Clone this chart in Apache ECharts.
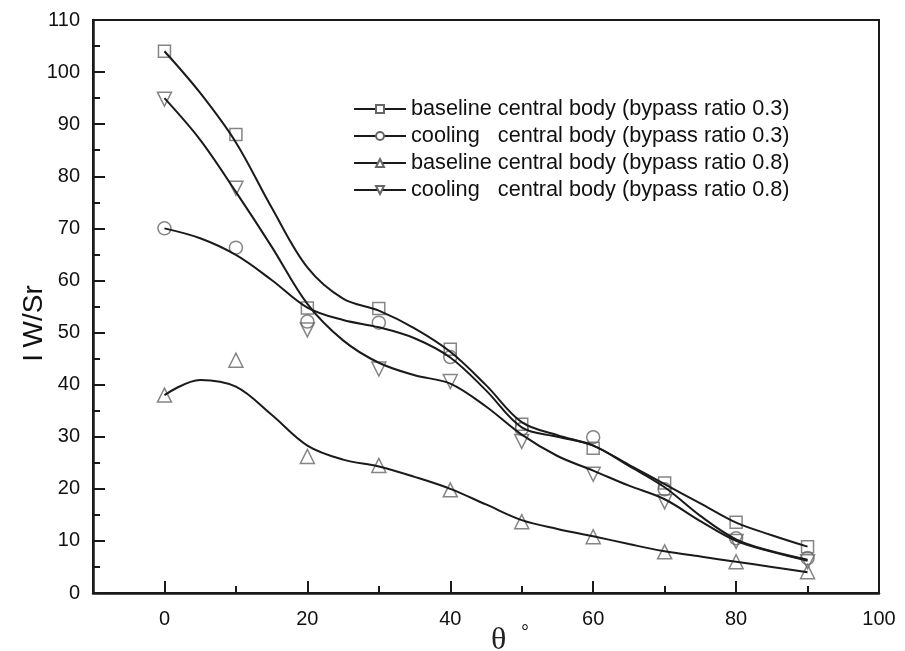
<!DOCTYPE html>
<html><head><meta charset="utf-8">
<script src="https://cdn.jsdelivr.net/npm/echarts@6/dist/echarts.min.js"></script>
<style>html,body{margin:0;padding:0;background:#fff}#c{width:905px;height:651px}</style>
</head><body><div id="c"></div>
<script>
// ---- data ----
const markerX = [0, 10, 20, 30, 40, 50, 60, 70, 80, 90];
const baseline03 = [104, 88, 54.7, 54.6, 46.8, 32.4, 27.8, 21.1, 13.6, 8.9];
const cooling03  = [70, 66.3, 52.1, 51.9, 45.3, 31.5, 29.9, 19.9, 10.5, 6.7];
const baseline08 = [38, 44.7, 26.2, 24.5, 19.8, 13.7, 10.8, 7.9, 6.0, 4.1];
const cooling08  = [94.8, 77.7, 50.5, 43.0, 40.6, 29.1, 22.8, 17.5, 9.9, 6.0];
// fitted curves
const curveX = [0, 5, 10, 15, 20, 25, 30, 35, 40, 45, 50, 55, 60, 65, 70, 75, 80, 85, 90];
const curveBaseline03 = [104, 96, 86.5, 74, 62.5, 56.5, 54.2, 50.8, 46.3, 39.9, 32.8, 30.3, 28.3, 24.6, 20.9, 17.2, 13.5, 11.1, 8.9];
const curveCooling03  = [70, 68.1, 64.9, 60.1, 54.8, 52.4, 51.0, 48.9, 45.2, 38.9, 31.8, 30, 28.3, 24.4, 20.3, 14.8, 10.3, 8.0, 6.4];
const curveBaseline08 = [38, 40.9, 39.6, 34.2, 28.3, 25.6, 24.3, 22.3, 20, 17, 14, 12.3, 10.9, 9.4, 8, 7, 6, 5, 4];
const curveCooling08  = [95, 87, 77, 66.5, 55.5, 48.5, 44.2, 41.8, 40.2, 35.8, 30.4, 26.3, 23.5, 20.6, 18, 13.8, 10, 7.9, 6.2];
const seriesNames = [
  'baseline central body (bypass ratio 0.3)',
  'cooling   central body (bypass ratio 0.3)',
  'baseline central body (bypass ratio 0.8)',
  'cooling   central body (bypass ratio 0.8)'
];
const xLabelTicks = [0, 20, 40, 60, 80, 100];
const xMajorTicks = [0, 20, 40, 60, 80];
const xMinorTicks = [10, 30, 50, 70, 90];
// ---- chart ----
const zip = (xs, ys) => xs.map((x, i) => [x, ys[i]]);
const markerSets = [baseline03, cooling03, baseline08, cooling08];
const curveSets = [curveBaseline03, curveCooling03, curveBaseline08, curveCooling08];
const symbols = ['rect', 'circle', 'triangle', 'triangle'];
const rotates = [0, 0, 0, 180];
const sizes = [12, 13, 14, 14];
const FONT = 'Liberation Sans, Arial, sans-serif';
const series = [];
for (let i = 0; i < 4; i++) {
  series.push({
    name: seriesNames[i], type: 'line', smooth: 0.35, xAxisIndex: 0,
    data: zip(curveX, curveSets[i]), showSymbol: false, symbol: symbols[i], symbolRotate: rotates[i],
    lineStyle: { color: '#1a1a1a', width: 2 },
    itemStyle: { color: '#fff', borderColor: '#666', borderWidth: 1.3 },
    z: 3, silent: true, animation: false
  });
}
for (let i = 0; i < 4; i++) {
  series.push({
    name: seriesNames[i], type: 'scatter', xAxisIndex: 0,
    data: zip(markerX, markerSets[i]), symbol: symbols[i], symbolRotate: rotates[i], symbolSize: sizes[i],
    itemStyle: { color: 'rgba(255,255,255,0)', borderColor: '#666', borderWidth: 1.5 },
    z: 2, silent: true, animation: false
  });
}
const chart = echarts.init(document.getElementById('c'), null, { renderer: 'canvas' });
chart.setOption({
  animation: false,
  backgroundColor: '#fff',
  grid: { left: 93, right: 26, top: 20, bottom: 58, show: true, borderColor: '#1a1a1a', borderWidth: 2,
          containLabel: false, outerBoundsMode: 'none' },
  legend: {
    data: seriesNames, orient: 'vertical', left: 353, top: 98, padding: 0,
    itemWidth: 52, itemHeight: 10, itemGap: 5,
    textStyle: { fontFamily: FONT, fontSize: 21.7, color: '#111', lineHeight: 22 },
    selectedMode: false
  },
  xAxis: [{
    type: 'value', min: -10, max: 100, interval: 10,
    axisLine: { show: true, onZero: false, lineStyle: { color: '#1a1a1a', width: 2.5 } },
    axisTick: { show: true, inside: true, length: 12, customValues: xMajorTicks, lineStyle: { color: '#1a1a1a', width: 2 } },
    axisLabel: { customValues: xLabelTicks, fontFamily: FONT, fontSize: 20, color: '#111', margin: 16 },
    splitLine: { show: false },
    name: '{t|θ}  {d|°}', nameLocation: 'middle', nameGap: 30, nameMoveOverlap: false,
    nameTextStyle: { padding: [0, 0, 0, 48], rich: {
      t: { fontFamily: 'Liberation Serif, serif', fontSize: 32, color: '#222' },
      d: { fontFamily: FONT, fontSize: 20, color: '#222', padding: [0, 0, 16, 8] } } }
  }, {
    type: 'value', min: -10, max: 100, interval: 10, position: 'bottom',
    axisLine: { show: false, onZero: false },
    axisTick: { show: true, inside: true, length: 7, customValues: xMinorTicks, lineStyle: { color: '#1a1a1a', width: 2 } },
    axisLabel: { show: false }, splitLine: { show: false }
  }],
  yAxis: {
    type: 'value', min: 0, max: 110, interval: 10,
    axisLine: { show: true, onZero: false, lineStyle: { color: '#1a1a1a', width: 2.5 } },
    axisTick: { show: true, inside: true, length: 12, lineStyle: { color: '#1a1a1a', width: 2 } },
    minorTick: { show: true, splitNumber: 2, length: 7, lineStyle: { color: '#1a1a1a', width: 2 } },
    axisLabel: { fontFamily: FONT, fontSize: 20, color: '#111', margin: 13 },
    splitLine: { show: false },
    name: '{a|I}  {b|W/Sr}', nameLocation: 'middle', nameGap: 45, nameRotate: 90, nameMoveOverlap: false,
    nameTextStyle: { padding: [0, 34, 0, 0], rich: {
      a: { fontFamily: FONT, fontSize: 28, color: '#111' },
      b: { fontFamily: FONT, fontSize: 28, color: '#111' } } }
  },
  series: series
});
</script></body></html>
